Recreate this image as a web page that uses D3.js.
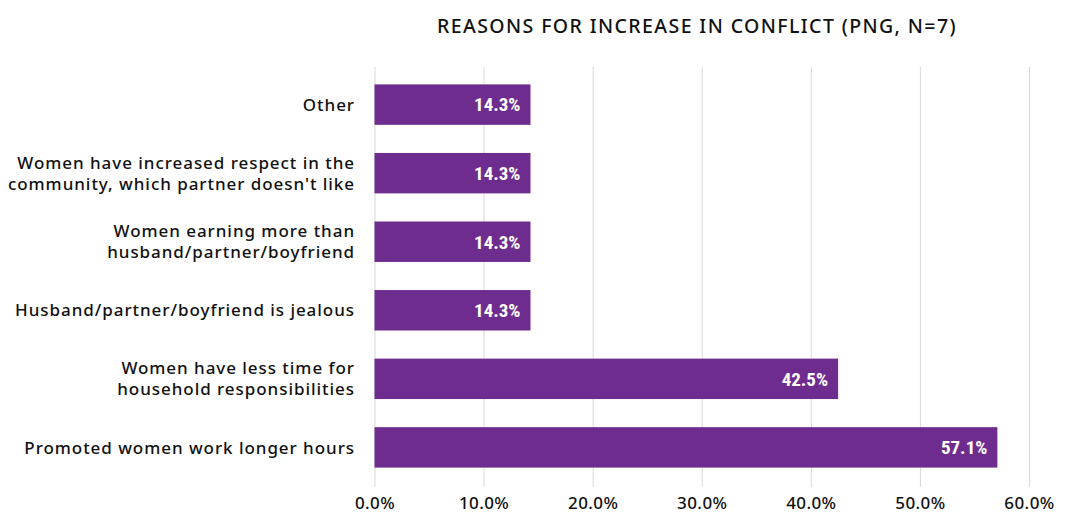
<!DOCTYPE html>
<html>
<head>
<meta charset="utf-8">
<script src="https://cdn.jsdelivr.net/npm/d3@7"></script>
<style>
  html, body { margin: 0; padding: 0; background: #ffffff; }
  svg { display: block; }
</style>
</head>
<body>
<svg id="chart" width="1070" height="518"></svg>
<script>
// Reasons given for increased conflict, share of respondents
const categories = [
  ["Other"],
  ["Women have increased respect in the", "community, which partner doesn't like"],
  ["Women earning more than", "husband/partner/boyfriend"],
  ["Husband/partner/boyfriend is jealous"],
  ["Women have less time for", "household responsibilities"],
  ["Promoted women work longer hours"]
];
const values = [14.3, 14.3, 14.3, 14.3, 42.5, 57.1];
const valueLabels = ["14.3%", "14.3%", "14.3%", "14.3%", "42.5%", "57.1%"];
const tickValues = [0, 10, 20, 30, 40, 50, 60];
const tickLabels = ["0.0%", "10.0%", "20.0%", "30.0%", "40.0%", "50.0%", "60.0%"];
const title = "REASONS FOR INCREASE IN CONFLICT (PNG, N=7)";

const svg = d3.select("#chart");
const margin = { left: 374.5, right: 41, top: 70, bottom: 482 };

const x = d3.scaleLinear().domain([0, 60]).range([margin.left, 1070 - margin.right]);
const y = d3.scaleBand()
  .domain(d3.range(categories.length))
  .range([margin.top, margin.bottom])
  .paddingInner(0.41)
  .paddingOuter(0.21);

const labelFont = "'Noto Sans', sans-serif";

// title
svg.append("text")
  .attr("x", 697)
  .attr("y", 33)
  .attr("text-anchor", "middle")
  .attr("font-family", labelFont)
  .attr("font-size", 19.5)
  .attr("font-weight", 500)
  .attr("letter-spacing", 1.4)
  .attr("fill", "#111")
  .text(title);

// vertical gridlines
svg.append("g")
  .selectAll("line")
  .data(tickValues)
  .join("line")
  .attr("x1", d => x(d) + 0.5)
  .attr("x2", d => x(d) + 0.5)
  .attr("y1", 67)
  .attr("y2", 487)
  .attr("stroke", "#d9d9d9")
  .attr("stroke-width", 1);

// x axis tick labels
const xAxis = d3.axisBottom(x)
  .tickValues(tickValues)
  .tickSize(0)
  .tickPadding(0)
  .tickFormat((d, i) => tickLabels[i]);
const gx = svg.append("g")
  .attr("transform", "translate(0,497)")
  .call(xAxis);
gx.select(".domain").remove();
gx.selectAll("text")
  .attr("dy", "0.71em")
  .attr("font-family", labelFont)
  .attr("font-size", 17)
  .attr("font-weight", 500)
  .attr("letter-spacing", 0.4)
  .attr("fill", "#111");

// bars
svg.append("g")
  .selectAll("rect")
  .data(values)
  .join("rect")
  .attr("x", x(0))
  .attr("y", (d, i) => y(i))
  .attr("width", d => x(d) - x(0))
  .attr("height", y.bandwidth())
  .attr("fill", "#6f2c8f");

// value labels inside bars
svg.append("g")
  .selectAll("text")
  .data(values)
  .join("text")
  .attr("x", d => x(d) - 10)
  .attr("y", (d, i) => y(i) + y.bandwidth() / 2)
  .attr("dy", "0.36em")
  .attr("text-anchor", "end")
  .attr("font-family", "'Liberation Sans Narrow', 'Roboto Condensed', Roboto, sans-serif")
  .attr("font-stretch", "condensed")
  .attr("font-size", 19)
  .attr("font-weight", 700)
  .attr("fill", "#ffffff")
  .text((d, i) => valueLabels[i]);

// category labels
const cat = svg.append("g")
  .selectAll("text")
  .data(categories)
  .join("text")
  .attr("x", 355)
  .attr("y", (d, i) => y(i) + y.bandwidth() / 2)
  .attr("text-anchor", "end")
  .attr("font-family", labelFont)
  .attr("font-size", 17)
  .attr("font-weight", 500)
  .attr("letter-spacing", 0.95)
  .attr("fill", "#111");

cat.each(function(lines) {
  const t = d3.select(this);
  const n = lines.length;
  lines.forEach((line, j) => {
    t.append("tspan")
      .attr("x", 355)
      .attr("dy", j === 0 ? ((0.36 - (n - 1) * 0.62) + "em") : "1.24em")
      .text(line);
  });
});
</script>
</body>
</html>
